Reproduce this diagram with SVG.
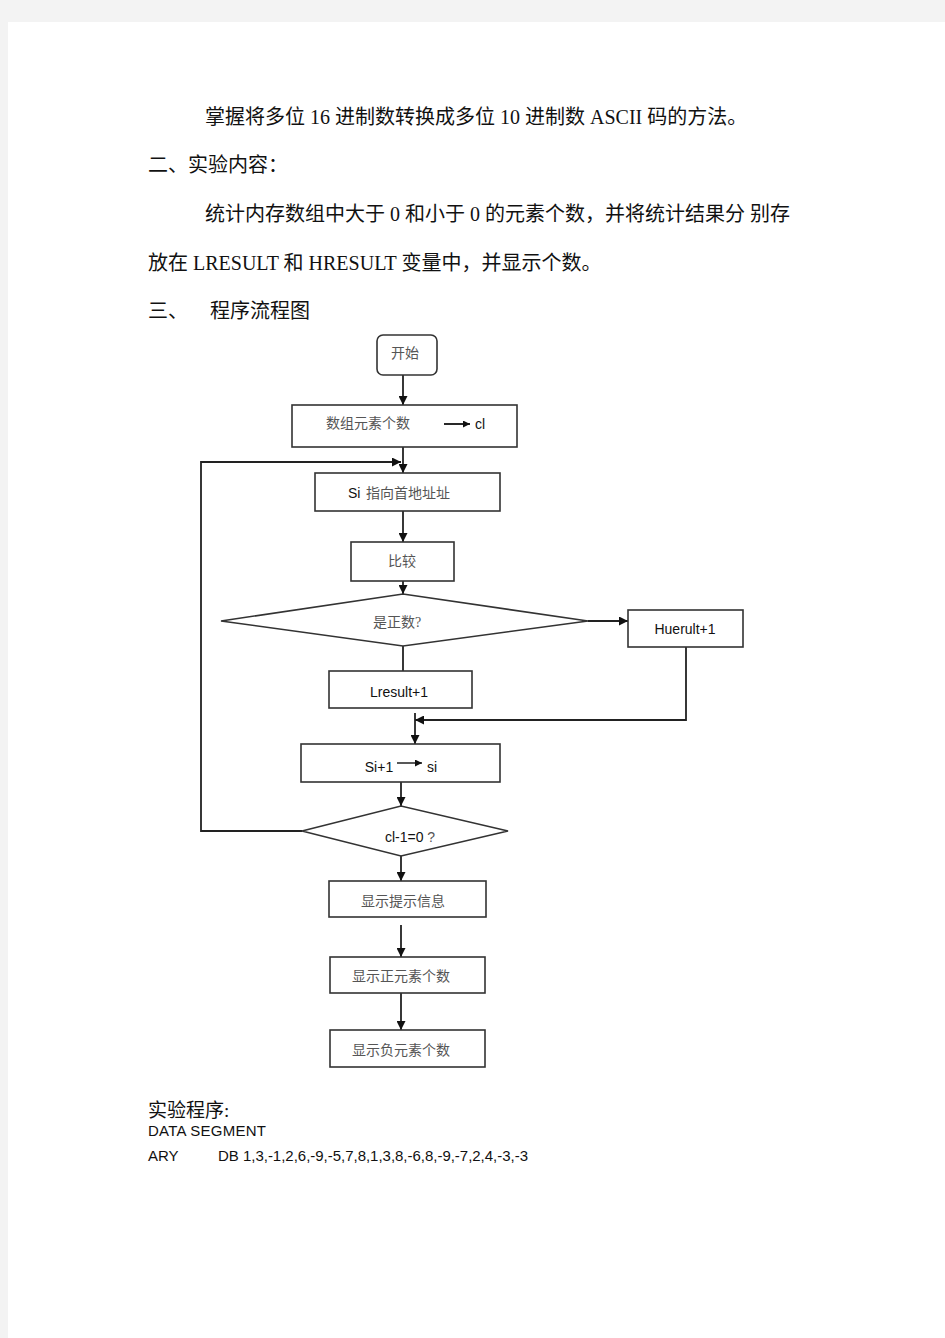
<svg xmlns="http://www.w3.org/2000/svg" width="945" height="1338" viewBox="0 0 945 1338">
<defs>
<marker id="ah" viewBox="0 0 10 10" refX="10" refY="5" markerWidth="9" markerHeight="9" markerUnits="userSpaceOnUse" orient="auto">
<path d="M0,0 L10,5 L0,10 z" fill="#111"/>
</marker>
<marker id="ahs" viewBox="0 0 10 10" refX="10" refY="5" markerWidth="7" markerHeight="7" markerUnits="userSpaceOnUse" orient="auto">
<path d="M0,0 L10,5 L0,10 z" fill="#111"/>
</marker>
</defs>
<style>
.doc{font-family:"Liberation Serif","Noto Sans CJK SC",serif;font-size:20px;fill:#111}
.cn{font-family:"Liberation Serif","Noto Sans CJK SC",serif;font-size:14px;fill:#555;text-anchor:middle}
.la{font-family:"Liberation Sans","Noto Sans CJK SC",sans-serif;font-size:14px;fill:#111;text-anchor:middle}
.box{fill:#fff;stroke:#333;stroke-width:1.6}
.ln{fill:none;stroke:#222;stroke-width:1.8}
.code{font-family:"Liberation Sans",sans-serif;font-size:15px;fill:#111}
</style>
<rect x="0" y="0" width="945" height="1338" fill="#f3f3f3"/>
<rect x="8" y="22" width="937" height="1316" fill="#fff"/>

<text class="doc" x="205" y="124">掌握将多位 16 进制数转换成多位 10 进制数 ASCII 码的方法。</text>
<text class="doc" x="148" y="172">二、实验内容：</text>
<text class="doc" x="205" y="221">统计内存数组中大于 0 和小于 0 的元素个数，并将统计结果分 别存</text>
<text class="doc" x="148" y="270">放在 LRESULT 和 HRESULT 变量中，并显示个数。</text>
<text class="doc" x="148" y="318">三、</text>
<text class="doc" x="210" y="318">程序流程图</text>

<g id="connectors">
<line class="ln" x1="403" y1="375" x2="403" y2="405" marker-end="url(#ah)"/>
<line class="ln" x1="403" y1="447" x2="403" y2="473" marker-end="url(#ah)"/>
<polyline class="ln" points="302,831 201,831 201,462 401,462" marker-end="url(#ah)"/>
<line class="ln" x1="403" y1="511" x2="403" y2="542" marker-end="url(#ah)"/>
<line class="ln" x1="403" y1="581" x2="403" y2="594" marker-end="url(#ah)"/>
<line class="ln" x1="588" y1="621" x2="628" y2="621" marker-end="url(#ah)"/>
<line class="ln" x1="403" y1="646" x2="403" y2="671"/>
<polyline class="ln" points="686,647 686,720 415,720" marker-end="url(#ah)"/>
<line class="ln" x1="415" y1="713" x2="415" y2="744" marker-end="url(#ah)"/>
<line class="ln" x1="401" y1="782" x2="401" y2="806" marker-end="url(#ah)"/>
<line class="ln" x1="401" y1="856" x2="401" y2="881" marker-end="url(#ah)"/>
<line class="ln" x1="401" y1="925" x2="401" y2="957" marker-end="url(#ah)"/>
<line class="ln" x1="401" y1="993" x2="401" y2="1030" marker-end="url(#ah)"/>
</g>

<g id="start">
<rect class="box" x="377" y="335" width="60" height="40" rx="6"/>
<text class="cn" x="405" y="358">开始</text>
</g>
<g id="count">
<rect class="box" x="292" y="405" width="225" height="42"/>
<text class="cn" x="368" y="428">数组元素个数</text>
<line x1="444" y1="424" x2="470" y2="424" stroke="#111" stroke-width="1.8" marker-end="url(#ahs)"/>
<text class="la" x="480" y="429">cl</text>
</g>
<g id="si-init">
<rect class="box" x="315" y="473" width="185" height="38"/>
<text x="348" y="498" style="font-family:'Liberation Sans',sans-serif;font-size:14px;fill:#111">Si</text>
<text x="366" y="498" style="font-family:'Liberation Serif','Noto Sans CJK SC',serif;font-size:14px;fill:#555">指向首地址址</text>
</g>
<g id="compare">
<rect class="box" x="351" y="542" width="103" height="39"/>
<text class="cn" x="402" y="566">比较</text>
</g>
<g id="is-positive">
<polygon class="box" points="221,621 403,594 588,621 403,646"/>
<text class="cn" x="397" y="627">是正数?</text>
</g>
<g id="hresult">
<rect class="box" x="628" y="610" width="115" height="37"/>
<text class="la" x="685" y="634">Huerult+1</text>
</g>
<g id="lresult">
<rect class="box" x="329" y="671" width="143" height="37"/>
<text class="la" x="399" y="697">Lresult+1</text>
</g>
<g id="si-inc">
<rect class="box" x="301" y="744" width="199" height="38"/>
<text class="la" x="379" y="772">Si+1</text>
<line x1="397" y1="763" x2="422" y2="763" stroke="#111" stroke-width="1.4" marker-end="url(#ahs)"/>
<text class="la" x="432" y="772">si</text>
</g>
<g id="cl-zero">
<polygon class="box" points="302,831 401,806 508,831 401,856"/>
<text class="la" x="410" y="842">cl-1=0 <tspan style="fill:#555">?</tspan></text>
</g>
<g id="show-info">
<rect class="box" x="329" y="881" width="157" height="36"/>
<text class="cn" x="403" y="906">显示提示信息</text>
</g>
<g id="show-pos">
<rect class="box" x="330" y="957" width="155" height="36"/>
<text class="cn" x="401" y="981">显示正元素个数</text>
</g>
<g id="show-neg">
<rect class="box" x="330" y="1030" width="155" height="37"/>
<text class="cn" x="401" y="1055">显示负元素个数</text>
</g>

<text x="148" y="1117" style="font-family:'Liberation Serif','Noto Sans CJK SC',serif;font-size:19px;fill:#111">实验程序:</text>
<text class="code" x="148" y="1136" textLength="118" lengthAdjust="spacing">DATA  SEGMENT</text>
<text class="code" x="148" y="1161">ARY</text>
<text class="code" x="218" y="1161" textLength="310" lengthAdjust="spacing">DB  1,3,-1,2,6,-9,-5,7,8,1,3,8,-6,8,-9,-7,2,4,-3,-3</text>
</svg>
